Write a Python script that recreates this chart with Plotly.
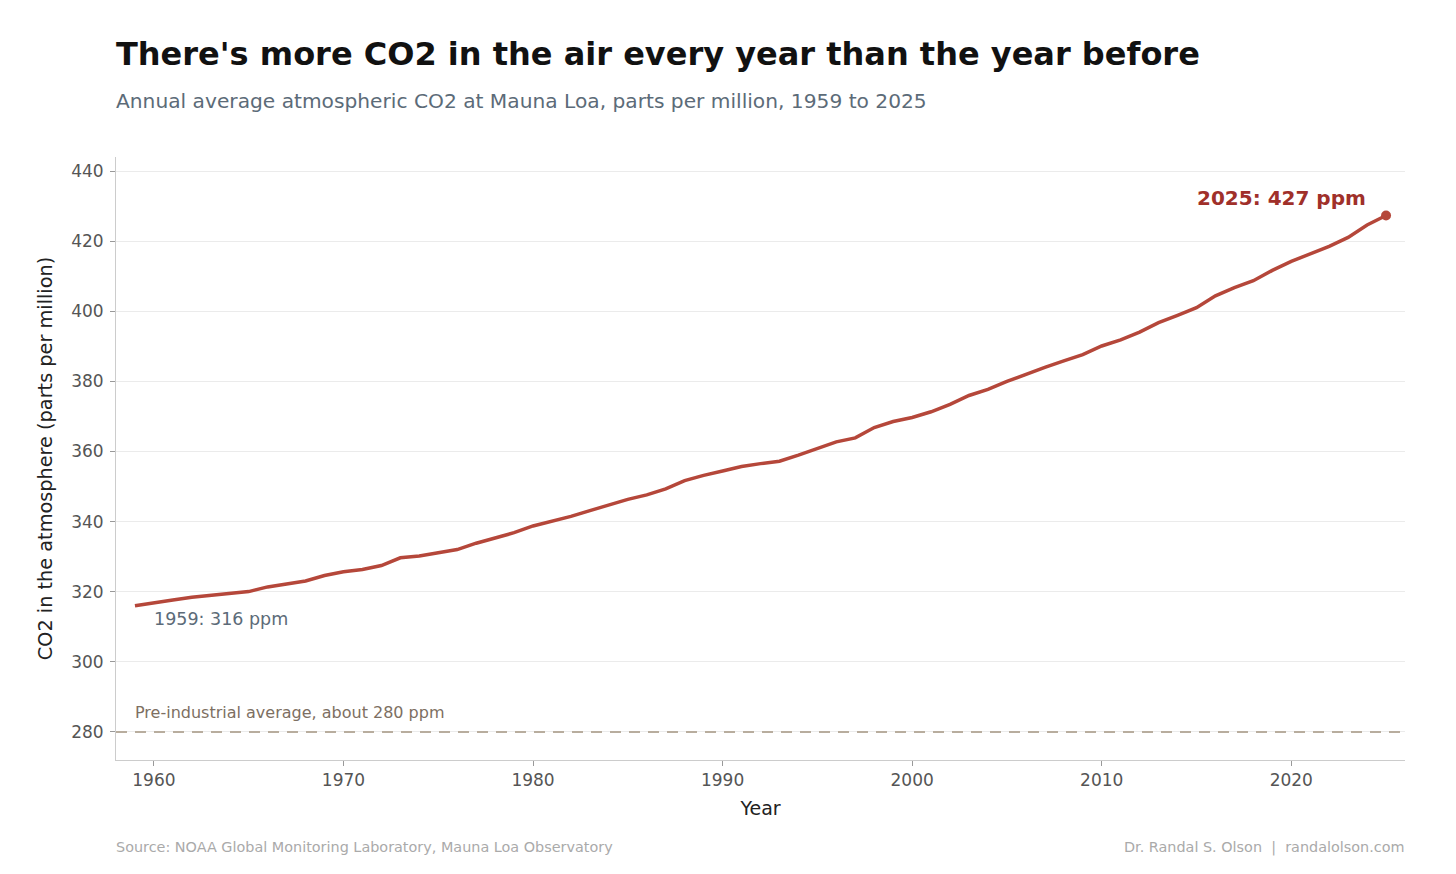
import plotly.graph_objects as go

years = list(range(1959, 2026))
co2_ppm = [315.98, 316.91, 317.64, 318.45, 318.99, 319.62, 320.04, 321.37, 322.18, 323.05,
           324.62, 325.68, 326.32, 327.46, 329.68, 330.19, 331.13, 332.03, 333.84, 335.41,
           336.84, 338.76, 340.12, 341.48, 343.15, 344.87, 346.35, 347.61, 349.31, 351.69,
           353.20, 354.45, 355.70, 356.54, 357.21, 358.96, 360.97, 362.74, 363.88, 366.84,
           368.54, 369.71, 371.32, 373.45, 375.98, 377.70, 379.98, 382.09, 384.02, 385.83,
           387.64, 390.10, 391.85, 394.06, 396.74, 398.81, 401.01, 404.41, 406.76, 408.72,
           411.65, 414.21, 416.41, 418.53, 421.08, 424.61, 427.30]
preindustrial = 280
y_ticks = [280, 300, 320, 340, 360, 380, 400, 420, 440]
x_ticks = [1960, 1970, 1980, 1990, 2000, 2010, 2020]

LINE = "#b5473a"
FONT = "DejaVu Sans"

fig = go.Figure()
fig.add_trace(go.Scatter(x=[1958, 2026], y=[preindustrial, preindustrial], mode="lines",
                         line=dict(color="#b8ad9e", width=2, dash="11px,8px"),
                         hoverinfo="skip", showlegend=False))
fig.add_trace(go.Scatter(x=years, y=co2_ppm, mode="lines",
                         line=dict(color=LINE, width=3.5), showlegend=False))
fig.add_trace(go.Scatter(x=[years[-1]], y=[co2_ppm[-1]], mode="markers",
                         marker=dict(color=LINE, size=10), showlegend=False))

fig.add_annotation(x=years[-1], y=co2_ppm[-1], text=f"<b>{years[-1]}: {round(co2_ppm[-1])} ppm</b>",
                   showarrow=False, xanchor="right", yanchor="bottom", xshift=-18, yshift=4,
                   font=dict(family=FONT, size=20, color="#a0302a"))
fig.add_annotation(x=years[0], y=co2_ppm[0], text=f"{years[0]}: {round(co2_ppm[0])} ppm",
                   showarrow=False, xanchor="left", yanchor="top", xshift=17, yshift=-1,
                   font=dict(family=FONT, size=17.5, color="#5c6b78"))
fig.add_annotation(x=1959, y=preindustrial, text="Pre-industrial average, about 280 ppm",
                   showarrow=False, xanchor="left", yanchor="bottom", xshift=-2, yshift=8,
                   font=dict(family=FONT, size=16, color="#7d6f62"))

fig.add_annotation(xref="paper", yref="paper", x=0, y=1, text="<b>There's more CO2 in the air every year than the year before</b>",
                   showarrow=False, xanchor="left", yanchor="bottom", xshift=-2, yshift=82,
                   font=dict(family=FONT, size=32, color="#111111"))
fig.add_annotation(xref="paper", yref="paper", x=0, y=1, text="Annual average atmospheric CO2 at Mauna Loa, parts per million, 1959 to 2025",
                   showarrow=False, xanchor="left", yanchor="bottom", xshift=-2, yshift=42,
                   font=dict(family=FONT, size=20.2, color="#5c6b78"))
fig.add_annotation(xref="paper", yref="paper", x=0, y=0, text="Source: NOAA Global Monitoring Laboratory, Mauna Loa Observatory",
                   showarrow=False, xanchor="left", yanchor="top", xshift=-2, yshift=-77,
                   font=dict(family=FONT, size=14.4, color="#aaaaaa"))
fig.add_annotation(xref="paper", yref="paper", x=1, y=0, text="Dr. Randal S. Olson  |  randalolson.com",
                   showarrow=False, xanchor="right", yanchor="top", xshift=2, yshift=-77,
                   font=dict(family=FONT, size=14.4, color="#aaaaaa"))

fig.update_layout(
    width=1456, height=874,
    margin=dict(l=116, r=51, t=157, b=114),
    paper_bgcolor="white", plot_bgcolor="white",
    font=dict(family=FONT),
)
fig.update_xaxes(range=[1958, 2026], tickvals=x_ticks, showgrid=False,
                 showline=True, linecolor="#cccccc", linewidth=1,
                 ticks="outside", ticklen=5, tickcolor="#999999",
                 tickfont=dict(size=17, color="#555555"), zeroline=False,
                 title=dict(text="Year", font=dict(size=19, color="#222222"), standoff=12))
fig.update_yaxes(range=[272, 444], tickvals=y_ticks, showgrid=True, gridcolor="#ebebeb",
                 showline=True, linecolor="#cccccc", linewidth=1,
                 ticks="outside", ticklen=5, tickcolor="#999999", ticklabelstandoff=3,
                 tickfont=dict(size=17, color="#555555"), zeroline=False,
                 title=dict(text="CO2 in the atmosphere (parts per million)", font=dict(size=19.3, color="#222222"), standoff=13))

fig.write_html("out.html")
